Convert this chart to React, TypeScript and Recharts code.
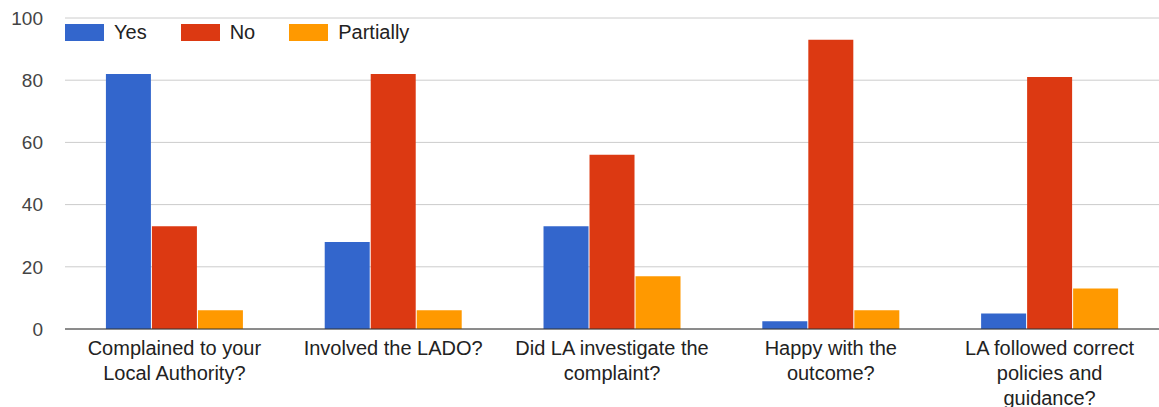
import { Bar, BarChart, CartesianGrid, XAxis, YAxis } from "recharts";

const CATEGORIES = [
  "Complained to your\nLocal Authority?",
  "Involved the LADO?",
  "Did LA investigate the\ncomplaint?",
  "Happy with the\noutcome?",
  "LA followed correct\npolicies and\nguidance?",
];
const YES = [82, 28, 33, 2.5, 5];
const NO = [33, 82, 56, 93, 81];
const PARTIALLY = [6, 6, 17, 6, 13];
const Y_TICKS = [0, 20, 40, 60, 80, 100];

const SERIES = [
  { key: "yes", name: "Yes", color: "#3366cc" },
  { key: "no", name: "No", color: "#dc3912" },
  { key: "partially", name: "Partially", color: "#ff9900" },
];

const data = CATEGORIES.map((label, i) => ({
  label,
  yes: YES[i],
  no: NO[i],
  partially: PARTIALLY[i],
}));

const FONT = "'Liberation Sans', Arial, sans-serif";

function CategoryTick({ x, y, payload }: any) {
  const lines = String(payload.value).split("\n");
  return (
    <text
      x={x}
      y={y}
      textAnchor="middle"
      fill="#222"
      fontSize={20}
      fontFamily={FONT}
    >
      {lines.map((line, i) => (
        <tspan key={i} x={x} dy={i === 0 ? 18 : 25}>
          {line}
        </tspan>
      ))}
    </text>
  );
}

function TopLegend() {
  return (
    <div
      style={{
        position: "absolute",
        left: 65,
        top: 21,
        display: "flex",
        alignItems: "center",
        fontFamily: FONT,
        fontSize: 20,
        color: "#222",
      }}
    >
      {SERIES.map((s) => (
        <div
          key={s.key}
          style={{ display: "flex", alignItems: "center", marginRight: 34 }}
        >
          <span
            style={{
              display: "inline-block",
              width: 39,
              height: 17,
              backgroundColor: s.color,
              marginRight: 10,
            }}
          />
          <span>{s.name}</span>
        </div>
      ))}
    </div>
  );
}

export default function App() {
  return (
    <div
      style={{
        position: "absolute",
        left: 0,
        top: 0,
        width: 1159,
        height: 407,
        background: "#fff",
        overflow: "hidden",
      }}
    >
      <BarChart
        width={1159}
        height={407}
        data={data}
        margin={{ top: 18, right: 0, left: 0, bottom: 48 }}
        barCategoryGap="18.7%"
        barGap={1}
      >
        <CartesianGrid vertical={false} stroke="#cccccc" />
        <XAxis
          dataKey="label"
          interval={0}
          axisLine={{ stroke: "#333333" }}
          tickLine={false}
          tick={<CategoryTick />}
        />
        <YAxis
          domain={[0, 100]}
          ticks={Y_TICKS}
          width={65}
          axisLine={false}
          tickLine={false}
          tickSize={0}
          tickMargin={22}
          tick={{ fill: "#444", fontSize: 19, fontFamily: FONT }}
        />
        {SERIES.map((s) => (
          <Bar
            key={s.key}
            dataKey={s.key}
            name={s.name}
            fill={s.color}
            isAnimationActive={false}
          />
        ))}
      </BarChart>
      <TopLegend />
    </div>
  );
}
